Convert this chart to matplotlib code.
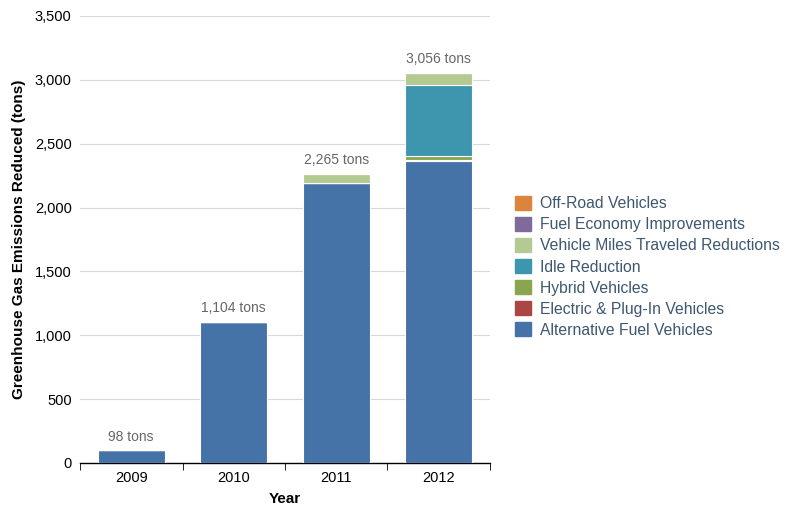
import matplotlib
matplotlib.use("Agg")
import matplotlib.pyplot as plt
import numpy as np
from matplotlib.patches import Patch

years = ["2009", "2010", "2011", "2012"]
series = ["Alternative Fuel Vehicles", "Electric & Plug-In Vehicles", "Hybrid Vehicles",
          "Idle Reduction", "Vehicle Miles Traveled Reductions",
          "Fuel Economy Improvements", "Off-Road Vehicles"]
colors = ["#4572A7", "#AA4643", "#89A54E", "#3D96AE", "#B5CA92", "#80699B", "#DB843D"]
values = {
    "Alternative Fuel Vehicles":         [98, 1104, 2195, 2365],
    "Electric & Plug-In Vehicles":       [0, 0, 0, 5],
    "Hybrid Vehicles":                   [0, 0, 0, 30],
    "Idle Reduction":                    [0, 0, 0, 560],
    "Vehicle Miles Traveled Reductions": [0, 0, 70, 96],
    "Fuel Economy Improvements":         [0, 0, 0, 0],
    "Off-Road Vehicles":                 [0, 0, 0, 0],
}
totals = [98, 1104, 2265, 3056]

plt.rcParams["font.family"] = ["Liberation Sans", "DejaVu Sans"]
fig = plt.figure(figsize=(8, 5.08), dpi=100)
ax = fig.add_axes([0.1, 0.0886, 0.5125, 0.88])

x = np.arange(len(years))
bottom = np.zeros(len(years))
for name, c in zip(series, colors):
    v = np.array(values[name], float)
    ax.bar(x, v, width=0.65, bottom=bottom, color=c, edgecolor="white", linewidth=0.8, zorder=3)
    bottom += v

for xi, t in zip(x, totals):
    ax.annotate(f"{t:,} tons", xy=(xi, t), xytext=(0, 5), textcoords="offset points",
                ha="center", va="bottom", fontsize=10, color="#666666")

ax.set_xlim(-0.5, 3.5)
ax.set_ylim(0, 3500)
ax.set_yticks(np.arange(0, 3501, 500))
ax.yaxis.set_major_formatter(matplotlib.ticker.FuncFormatter(lambda v, p: f"{int(v):,}"))
ax.grid(axis="y", color="#D8D8D8", linewidth=0.8, zorder=0)
ax.set_xticks(x)
ax.set_xticklabels(years)
ax.set_xticks(np.arange(-0.5, 4, 1), minor=True)
ax.tick_params(axis="x", which="major", length=0, labelsize=10.5, pad=6)
ax.tick_params(axis="x", which="minor", length=5, direction="out", color="black")
ax.tick_params(axis="y", length=0, labelsize=10.5, pad=6)
for s in ["top", "right", "left"]:
    ax.spines[s].set_visible(False)
ax.spines["bottom"].set_color("black")
ax.spines["bottom"].set_linewidth(1.0)

ax.set_xlabel("Year", fontsize=11, fontweight="bold", labelpad=5)
ax.set_ylabel("Greenhouse Gas Emissions Reduced (tons)", fontsize=11, fontweight="bold", labelpad=6)

handles = [Patch(facecolor=c, edgecolor=c, label=n) for n, c in zip(series, colors)][::-1]
fig.legend(handles=handles, loc="upper left", bbox_to_anchor=(0.626, 0.642),
           frameon=False, fontsize=11.3, labelcolor="#3E576F",
           handlelength=1.0, handleheight=1.0, handletextpad=0.6, labelspacing=0.36)

fig.savefig("out.png", dpi=100)
